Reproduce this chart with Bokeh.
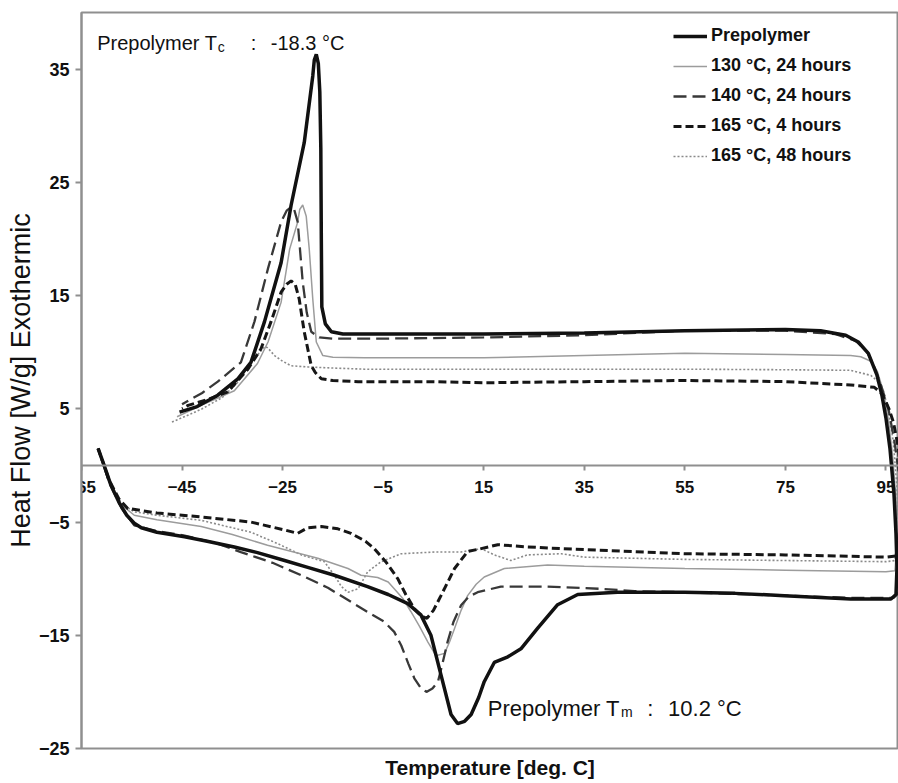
from bokeh.plotting import figure
from bokeh.models import FixedTicker, Legend, LegendItem, Label, Title
from bokeh.embed import file_html
from bokeh.resources import INLINE

# ---------------- data ----------------
x_ticks = [-65, -45, -25, -5, 15, 35, 55, 75, 95]
y_ticks = [-25, -15, -5, 5, 15, 25, 35]

series_labels = ["Prepolymer", "130 \u00b0C, 24 hours", "140 \u00b0C, 24 hours",
                 "165 \u00b0C, 4 hours", "165 \u00b0C, 48 hours"]

# each series: heating branch (left->right), up at ~97 degC, then cooling branch (right->left)
prepolymer_T = [-61.7, -60.5, -59.1, -57.5, -56.0, -54.5, -53.1, -50, -44.5, -40, -34.6, -30, -24.6, -20, -14.7,
                -8.1, -4, -0.1, 2.5, 4.5, 6.5, 8.5, 9.8, 11.2, 12.5, 14, 15.1, 17.1, 19.8, 22.4, 25.7, 29.7, 33.7,
                41.6, 54.9, 65, 74.8, 88.0, 96.0, 97.0,
                97.2, 97.0, 96.6, 95.8, 95.0, 94.2, 93.2, 91.5, 89.5, 87, 82, 75, 55, 35, 15, -5, -13, -15.3,
                -16.5, -17.2, -17.3, -17.4, -17.6, -17.9, -18.3, -18.7, -19.0, -20.7, -23.3, -25.3, -28.6, -31.3,
                -33.9, -37.9, -42, -45.5]
prepolymer_HF = [1.5, 0, -1.8, -3.3, -4.4, -5.1, -5.5, -5.9, -6.3, -6.7, -7.2, -7.7, -8.4, -9.0, -9.7,
                 -10.7, -11.4, -12.2, -13.2, -15.0, -18.5, -22.0, -22.8, -22.6, -22.0, -20.5, -19.1, -17.4, -16.9,
                 -16.2, -14.4, -12.3, -11.4, -11.2, -11.2, -11.3, -11.5, -11.8, -11.8, -11.4,
                 -9.0, -6.0, -2.5, 1.5, 4.2, 6.2, 8.0, 9.9, 10.9, 11.5, 11.9, 12.0, 11.9, 11.7, 11.6, 11.6, 11.6,
                 11.8, 12.5, 14, 20, 28, 33, 35.5, 36.3, 35.8, 34.4, 28.5, 23.0, 17.9, 12.7, 9.1, 7.65, 6.2, 5.2, 4.7]

t130_T = [-61.7, -59.5, -57, -54.5, -50, -41.2, -35, -28, -18, -12, -9.4, -6.1, -4, -2.8, -1, 0.5, 2.2, 3.9, 5.5,
          7.2, 8.2, 9.2, 10.5, 11.8, 13.5, 15.1, 19.1, 27.7, 35, 55, 75, 95, 96.8,
          97.2, 97.0, 96.3, 95.5, 94.5, 93.3, 92, 90, 88, 75, 55, 35, 15, -8.7, -15, -17, -18.3, -19, -19.7,
          -20.3, -21.0, -21.6, -22, -23.6, -25.3, -27.9, -30, -34.6, -41.2, -46.0]
t130_HF = [1.5, -1.5, -3.5, -4.4, -4.8, -5.4, -6.1, -7.05, -8.2, -9.1, -9.7, -9.9, -10.3, -10.9, -11.8, -12.9,
           -14.2, -15.6, -16.8, -16.6, -15.6, -14.4, -12.8, -11.5, -10.5, -9.85, -9.1, -8.8, -8.9, -9.1, -9.25,
           -9.4, -9.3,
           -7, -3, 1, 4, 6.5, 8.3, 9.2, 9.6, 9.7, 9.8, 9.9, 9.7, 9.5, 9.5, 9.55, 9.7, 10.9, 14.7, 19.1, 22.0,
           23.0, 22.6, 21.5, 19.1, 14.4, 10.9, 9.0, 6.6, 5.3, 4.3]

t140_T = [-61.7, -59.5, -57, -54.5, -50, -44.5, -38, -33.3, -27, -21.3, -16, -11.4, -7.5, -4.8, -2.8, -1.4, 0.0,
          1.2, 2.4, 3.6, 4.8, 5.9, 6.8, 7.8, 9.0, 10.5, 12, 13.8, 18.4, 27.7, 38.3, 45, 55, 75, 88, 96.5, 97.6,
          97.9, 97.9, 97.5, 96.7, 95.5, 94.0, 92.5, 91.3, 89, 85, 75, 55, 35, 15, -5, -15, -17.7, -19.3, -20.2,
          -21, -22, -22.7, -23.3, -24.2, -25.3, -27.9, -30.6, -33.3, -37.9, -41, -45.0]
t140_HF = [1.5, -1.5, -3.8, -5.3, -5.8, -6.2, -6.9, -7.65, -8.6, -9.7, -10.8, -12.05, -13.1, -13.8, -14.7, -15.9,
           -17.5, -18.8, -19.6, -20.0, -19.7, -19.1, -17.5, -15.6, -13.8, -12.35, -11.6, -11.2, -10.7, -10.7,
           -10.9, -11.1, -11.2, -11.5, -11.7, -11.7, -11.2,
           -8, -4, -0.5, 2.1, 5.0, 7.1, 8.9, 10.0, 11.0, 11.6, 11.9, 11.9, 11.5, 11.3, 11.2, 11.2, 11.3, 11.8,
           13.5, 16.2, 21.5, 22.6, 22.8, 22.5, 21.5, 17.4, 12.7, 9.1, 7.4, 6.4, 5.4]

t165a_T = [-61.7, -59.5, -57.5, -55.8, -50, -41.2, -31.3, -24.6, -22, -20, -17.3, -14, -11.4, -8.5, -6.75, -4.5,
           -2.1, -0.5, 1.2, 2.5, 3.7, 5, 6.5, 9.2, 11.8, 14.5, 17.8, 23.7, 30.4, 55, 75, 95, 97.0,
           97.8, 98.0, 97.5, 96.5, 95.6, 94.3, 92.7, 88, 75, 55, 35, 15, 4.5, -10, -15, -17.3, -18.5, -19.3,
           -20.7, -21.7, -22.5, -23.3, -24.2, -25.3, -27.3, -29.3, -31.9, -35.9, -40, -43.8, -45]
t165a_HF = [1.5, -1.3, -3.0, -3.8, -4.2, -4.55, -5.0, -5.7, -6.0, -5.5, -5.4, -5.6, -6.0, -6.7, -7.35, -8.5,
            -10.0, -11.4, -12.65, -13.3, -13.5, -12.8, -11.5, -9.1, -7.6, -7.35, -7.0, -7.2, -7.35, -7.8, -7.9,
            -8.1, -8.0,
            -5.5, -2, 1.5, 3.8, 5.0, 6.3, 6.9, 7.1, 7.4, 7.5, 7.4, 7.3, 7.4, 7.4, 7.5, 7.65, 8.2, 8.8, 11.8,
            14.7, 16.0, 16.3, 16.0, 15.3, 12.7, 10.3, 8.5, 6.5, 5.8, 5.3, 5.0]

t165b_T = [-61.7, -59.5, -57, -54.5, -50, -41.2, -31.3, -26, -21.3, -16.7, -14.7, -13.3, -12.0, -10.0, -8.1,
           -5.4, -1.4, 5.2, 10.5, 14.5, 17.1, 20.4, 23.7, 30.4, 35, 55, 75, 95, 96.8,
           97.3, 97.2, 96.5, 95.5, 94.5, 93.5, 92, 88, 75, 55, 35, 15, -8.7, -15, -20, -23.3, -25, -26.6,
           -28.0, -28.6, -29.5, -31.3, -34, -37, -41, -44, -47.2]
t165b_HF = [1.5, -1.4, -3.4, -4.1, -4.4, -4.85, -5.9, -6.9, -7.9, -8.5, -9.7, -10.7, -11.2, -10.9, -9.4, -8.5,
            -7.8, -7.65, -7.65, -7.35, -7.9, -8.4, -7.9, -7.8, -8.1, -8.3, -8.4, -8.5, -8.4,
            -6, -2, 2, 4.8, 6.6, 7.4, 7.95, 8.4, 8.45, 8.5, 8.5, 8.5, 8.5, 8.6, 8.7, 8.8, 9.2, 9.7, 10.4,
            10.5, 10.0, 9.1, 7.3, 6.0, 5.0, 4.4, 3.8]

FONT = "Liberation Sans"
GRAY = "#8f8f8f"
INK = "#111111"

p = figure(width=898, height=783, x_range=(-65, 97.5), y_range=(-25, 40),
           output_backend="svg", toolbar_location=None,
           min_border_left=81, min_border_right=0, min_border_top=12, min_border_bottom=35)
p.background_fill_color = "white"
p.border_fill_color = "white"
p.grid.visible = False
p.outline_line_color = GRAY
p.outline_line_width = 2

# x axis drawn at y = 0
xa = p.xaxis[0]
xa.fixed_location = 0
xa.ticker = FixedTicker(ticks=x_ticks)
xa.axis_line_color = GRAY
xa.axis_line_width = 2
xa.major_tick_line_color = GRAY
xa.major_tick_line_width = 2
xa.major_tick_in = 0
xa.major_tick_out = 5
xa.minor_tick_line_color = None
xa.major_label_text_font = FONT
xa.major_label_text_font_style = "bold"
xa.major_label_text_font_size = "17px"
xa.major_label_text_color = INK
xa.major_label_standoff = 11

ya = p.yaxis[0]
ya.ticker = FixedTicker(ticks=y_ticks)
ya.axis_line_color = GRAY
ya.axis_line_width = 2
ya.major_tick_line_color = GRAY
ya.major_tick_line_width = 2
ya.major_tick_in = 0
ya.major_tick_out = 6
ya.minor_tick_line_color = None
ya.major_label_text_font = FONT
ya.major_label_text_font_style = "bold"
ya.major_label_text_font_size = "18px"
ya.major_label_text_color = INK
ya.major_label_standoff = 6

# axis titles
p.add_layout(Title(text="Heat Flow [W/g] Exothermic", align="center", standoff=0,
                   text_font=FONT, text_font_size="27px", text_font_style="normal",
                   text_color=INK), "left")
p.add_layout(Title(text="Temperature [deg. C]", align="center",
                   text_font=FONT, text_font_size="21px", text_font_style="bold",
                   text_color=INK), "below")

r48 = p.line(t165b_T, t165b_HF, line_color="#8a8a8a", line_width=1.6, line_dash="2 2")
r130 = p.line(t130_T, t130_HF, line_color="#9c9c9c", line_width=1.5)
r140 = p.line(t140_T, t140_HF, line_color="#383838", line_width=2.3, line_dash="13 6")
r4 = p.line(t165a_T, t165a_HF, line_color="#161616", line_width=3, line_dash="8 4")
rpre = p.line(prepolymer_T, prepolymer_HF, line_color=INK, line_width=3.5)

legend = Legend(items=[LegendItem(label=series_labels[0], renderers=[rpre]),
                       LegendItem(label=series_labels[1], renderers=[r130]),
                       LegendItem(label=series_labels[2], renderers=[r140]),
                       LegendItem(label=series_labels[3], renderers=[r4]),
                       LegendItem(label=series_labels[4], renderers=[r48])],
                location=(592, 582), orientation="vertical",
                background_fill_alpha=0, border_line_color=None,
                glyph_width=34, glyph_height=20, label_height=20, label_standoff=4,
                spacing=9, padding=0, margin=0,
                label_text_font=FONT, label_text_font_style="bold",
                label_text_font_size="18px", label_text_color=INK)
p.add_layout(legend)

def lab(x, y, text, size, style="normal"):
    p.add_layout(Label(x=x, y=y, text=text, text_font=FONT, text_font_size=size,
                       text_font_style=style, text_color=INK, text_align="left",
                       text_baseline="alphabetic"))

# crystallisation annotation
lab(-61.87, 37.29, "Prepolymer T", "20px")
lab(-37.9, 36.91, "c", "14px")
lab(-31.33, 37.29, ":", "20px")
lab(-27.35, 37.29, "-18.3 \u00b0C", "20px")
# melting annotation
lab(15.82, -21.49, "Prepolymer T", "22px")
lab(42.3, -21.79, "m", "14px")
lab(47.55, -21.49, ":", "22px")
lab(51.67, -21.49, "10.2 \u00b0C", "22px")

open("out.html", "w").write(file_html(p, INLINE))
